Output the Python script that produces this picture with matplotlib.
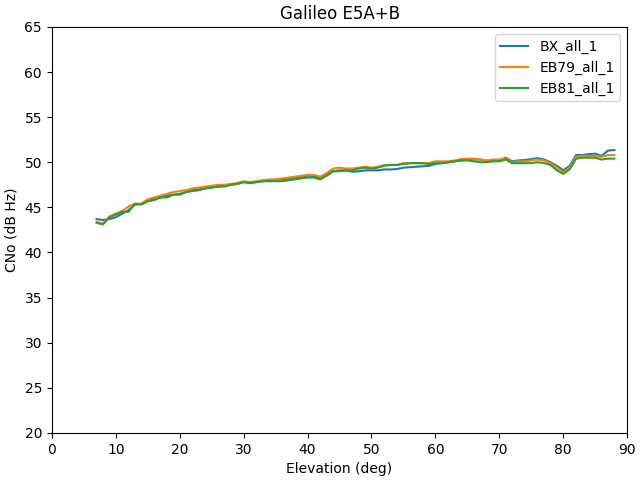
import matplotlib
matplotlib.use('Agg')
import matplotlib.pyplot as plt
import numpy as np

elevation = list(range(7, 89))

bx_all_1 = [43.7, 43.6, 43.7, 43.9, 44.3, 44.7, 45.3, 45.4, 45.7, 45.9,
            46.1, 46.3, 46.4, 46.5, 46.7, 46.9, 47.0, 47.1, 47.2, 47.3,
            47.4, 47.5, 47.6, 47.8, 47.7, 47.8, 47.9, 48.0, 48.0, 48.1,
            48.2, 48.3, 48.4, 48.5, 48.5, 48.2, 48.6, 49.0, 49.1, 49.1,
            48.95, 49.0, 49.1, 49.1, 49.1, 49.2, 49.2, 49.25, 49.4, 49.45,
            49.5, 49.55, 49.6, 49.8, 49.9, 50.0, 50.1, 50.2, 50.3, 50.3,
            50.3, 50.1, 50.2, 50.2, 50.5, 50.1, 50.2, 50.25, 50.35, 50.45,
            50.3, 50.0, 49.6, 49.1, 49.6, 50.8, 50.8, 50.9, 50.95, 50.7,
            51.3, 51.35]

eb79_all_1 = [43.4, 43.2, 44.0, 44.3, 44.6, 45.1, 45.4, 45.4, 45.9, 46.1,
              46.3, 46.5, 46.7, 46.8, 46.9, 47.1, 47.2, 47.3, 47.4, 47.5,
              47.5, 47.6, 47.7, 47.9, 47.8, 47.9, 48.0, 48.1, 48.1, 48.2,
              48.3, 48.4, 48.5, 48.6, 48.6, 48.4, 48.8, 49.3, 49.4, 49.3,
              49.3, 49.4, 49.5, 49.4, 49.5, 49.7, 49.7, 49.7, 49.9, 49.9,
              49.9, 49.9, 49.9, 50.1, 50.1, 50.1, 50.2, 50.35, 50.4, 50.4,
              50.3, 50.2, 50.3, 50.3, 50.4, 50.0, 50.1, 50.1, 50.2, 50.3,
              50.2, 49.9, 49.4, 48.9, 49.4, 50.6, 50.7, 50.7, 50.7, 50.6,
              50.8, 50.8]

eb81_all_1 = [43.3, 43.1, 43.9, 44.2, 44.5, 44.5, 45.4, 45.3, 45.7, 45.8,
              46.1, 46.1, 46.4, 46.4, 46.7, 46.8, 46.9, 47.1, 47.2, 47.3,
              47.3, 47.5, 47.6, 47.8, 47.7, 47.8, 47.9, 47.9, 47.9, 47.9,
              48.0, 48.1, 48.2, 48.3, 48.3, 48.1, 48.5, 49.0, 49.0, 49.1,
              49.1, 49.3, 49.4, 49.3, 49.4, 49.6, 49.7, 49.7, 49.8, 49.9,
              49.9, 49.9, 49.8, 49.9, 49.9, 50.0, 50.1, 50.2, 50.2, 50.1,
              50.0, 50.0, 50.1, 50.1, 50.3, 49.9, 49.9, 49.9, 49.9, 50.0,
              49.9, 49.7, 49.1, 48.7, 49.2, 50.4, 50.5, 50.5, 50.5, 50.3,
              50.4, 50.4]

fig, ax = plt.subplots(figsize=(6.4, 4.8), dpi=100)

ax.plot(elevation, bx_all_1, label='BX_all_1')
ax.plot(elevation, eb79_all_1, label='EB79_all_1')
ax.plot(elevation, eb81_all_1, label='EB81_all_1')

ax.set_xlim(0, 90)
ax.set_ylim(20, 65)
ax.set_xticks(np.arange(0, 91, 10))
ax.set_yticks(np.arange(20, 66, 5))
ax.set_xlabel('Elevation (deg)')
ax.set_ylabel('CNo (dB Hz)')
ax.set_title('Galileo E5A+B')
ax.legend(loc='upper right')

fig.subplots_adjust(left=0.081, right=0.980, top=0.944, bottom=0.098)
fig.savefig('out.png')
